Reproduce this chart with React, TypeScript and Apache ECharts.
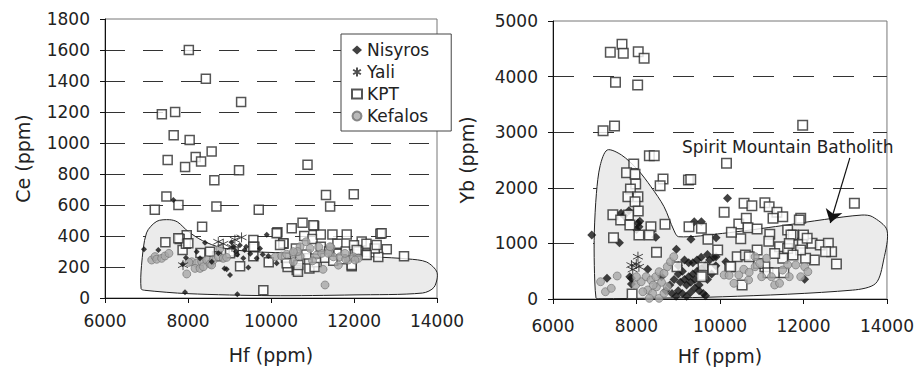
import React, { useEffect, useRef } from 'react';
import * as echarts from 'echarts';

// ---------- axis ranges ----------
const hfRange = [6000, 14000];
const hfStep = 2000;
const ceRange = [0, 1800];
const ceStep = 200;
const ybRange = [0, 5000];
const ybStep = 1000;

const seriesNames = ['Nisyros', 'Yali', 'KPT', 'Kefalos'];
const fieldLabel = 'Spirit Mountain Batholith';

// ---------- Ce vs Hf (left) ----------
const ceKPT: number[][] = [
  [8020, 1600], [8430, 1415], [9280, 1265], [7370, 1185], [7690, 1200], [7655, 1050], [8040, 1020],
  [7510, 890], [7930, 845], [8185, 910], [8315, 880], [8570, 945], [8635, 760], [9230, 825], [10880, 860],
  [7480, 655], [7200, 570], [7770, 600], [8685, 590], [9705, 570], [11325, 665], [11425, 590], [11995, 670],
  [8340, 460], [13205, 270], [9815, 50], [12635, 415], [10760, 485], [11040, 465], [10500, 450], [10155, 425],
  [11480, 410], [11825, 410], [12185, 365], [12790, 315], [12275, 280], [11945, 205], [10925, 190], [9945, 230],
  [9255, 205], [7455, 360], [7970, 405], [7870, 310], [9575, 375], [9575, 270], [10360, 260], [10620, 180],
  [11620, 285], [12585, 265], [10300, 350], [10600, 320], [10800, 400], [11000, 380], [11200, 330], [11400, 300],
  [11600, 350], [11800, 300], [12000, 340], [12300, 350], [10700, 250], [11100, 230], [11300, 260], [11500, 240],
  [12100, 300], [10400, 200], [10650, 170], [11050, 200], [10850, 280], [11700, 250], [9600, 330], [8300, 290],
  [7800, 380], [7950, 350], [8700, 270], [9100, 300], [11200, 410], [12500, 320], [7767, 385], [8008, 353],
  [8530, 299], [9013, 288], [9574, 331], [10137, 417], [10298, 353], [10218, 342], [10378, 224], [10659, 213],
  [11944, 213], [12305, 277], [12546, 342], [12064, 310], [12666, 417], [11021, 470]
];
const ceKef: number[][] = [
  [7125, 245], [7205, 267], [7245, 250], [7365, 256], [7445, 271], [7540, 288], [7970, 155], [8090, 234],
  [8210, 224], [8170, 191], [8290, 191], [8330, 234], [8370, 202], [8450, 245], [8530, 219], [8570, 213],
  [8610, 245], [8730, 267], [8770, 320], [8850, 256], [8930, 262], [8020, 230], [10105, 266], [10258, 271],
  [10378, 282], [10539, 288], [10700, 331], [10844, 363], [10941, 320], [11101, 277], [11222, 288], [11446, 327],
  [11502, 266], [11623, 212], [11664, 266], [11864, 245], [11985, 266], [12105, 256], [11254, 185], [11302, 84],
  [10539, 234], [11000, 240], [10700, 270], [11800, 250], [11400, 300], [10640, 300], [11150, 330], [11381, 288],
  [11783, 288], [12025, 245], [11422, 331], [10539, 299]
];
const ceNis: number[][] = [
  [6940, 314], [7285, 310], [7647, 632], [7928, 37], [9188, 24], [9897, 408], [8410, 357], [7872, 217],
  [9012, 148], [9454, 196], [8932, 185], [8880, 190], [9092, 331], [9188, 280], [9333, 256], [9365, 310],
  [9735, 320], [9655, 256], [9935, 271], [8210, 299], [8732, 288], [8571, 234], [8289, 256], [9050, 360],
  [9250, 340], [9400, 330], [9150, 300], [7950, 260], [10137, 224], [9800, 280], [9500, 285]
];
const ceYali: number[][] = [
  [8730, 363], [8850, 350], [9130, 376], [9290, 391], [7880, 212], [9060, 330]
];
const ceField: number[][] = [
  [6870, 60], [6880, 210], [7000, 420], [7250, 495], [7560, 505], [7750, 490], [8000, 430], [8350, 370],
  [8800, 325], [9500, 300], [10500, 290], [11500, 278], [12500, 265], [13300, 252], [13750, 232], [14000, 165],
  [13930, 70], [13650, 32], [12000, 20], [10000, 15], [8000, 28], [6950, 50]
];

// ---------- Yb vs Hf (right) ----------
const ybKPT: number[][] = [
  [7373, 4438], [7653, 4582], [7684, 4420], [8042, 4449], [8183, 4330], [7497, 3898], [8028, 3850], [7200, 3028],
  [7474, 3112], [11981, 3125], [8308, 2578], [8425, 2578], [7934, 2429], [10156, 2441], [7762, 2272], [7965, 2243],
  [7981, 2069], [7855, 1979], [7794, 1840], [8035, 1840], [8636, 2159], [8566, 2038], [9244, 2141], [9300, 2150],
  [7965, 1751], [8042, 1583], [7434, 1517], [7808, 1511], [7621, 1421], [7841, 1331], [8058, 1151], [8346, 1301],
  [8308, 1151], [7450, 1103], [8683, 1343], [8479, 840], [7895, 90], [9258, 1301], [9555, 1271], [9712, 1073],
  [10100, 1559], [10577, 1721], [10764, 1679], [11076, 1733], [11177, 1661], [11364, 1559], [11504, 1481],
  [11934, 1451], [11900, 1420], [13220, 1721], [12790, 630], [10451, 1349], [10631, 1451], [10671, 1283],
  [10889, 1259], [11270, 1451], [11621, 1241], [11754, 1151], [10498, 1085], [10273, 1199], [9945, 881],
  [10233, 581], [10413, 761], [10608, 791], [9595, 570], [9595, 426], [9829, 534], [8971, 581], [11193, 1163],
  [11427, 941], [11170, 1040], [11972, 1002], [12206, 1002], [12402, 971], [12596, 1002], [12674, 851],
  [12530, 851], [12261, 702], [12051, 732], [11930, 880], [11620, 910], [11504, 732], [11310, 820], [11076, 581],
  [10920, 640], [10890, 880], [10700, 760], [11150, 470], [11310, 470], [11530, 470], [11750, 790], [10530, 252],
  [11700, 1150], [12000, 1150], [11660, 1000], [12089, 1092], [9555, 401], [10257, 581]
];
const ybKef: number[][] = [
  [7139, 311], [7256, 131], [7396, 192], [7537, 414], [7981, 252], [8113, 311], [8230, 401], [8346, 342],
  [8463, 401], [8542, 491], [8659, 462], [8737, 581], [8814, 671], [8893, 761], [8269, 162], [8386, 102],
  [8542, 12], [8659, 102], [8737, 221], [8152, 131], [8308, 12], [8480, 221], [8000, 401], [10100, 432],
  [10218, 426], [10334, 282], [10451, 432], [10569, 534], [10685, 342], [10842, 761], [10842, 581], [10998, 401],
  [11116, 732], [11232, 401], [11310, 252], [11427, 282], [11621, 612], [11660, 401], [11816, 612], [11934, 401],
  [12027, 581], [12105, 491], [10700, 480], [11500, 520], [10950, 640], [8600, 300], [8400, 250]
];
const ybNis: number[][] = [
  [6928, 1151], [7294, 372], [7591, 1013], [7630, 1541], [7817, 1589], [8035, 1361], [8060, 1301], [8080, 1400],
  [8463, 1110], [7879, 372], [7879, 270], [8269, 534], [8955, 894], [10180, 1811], [9305, 1073], [9384, 1391],
  [9555, 1391], [9906, 1103], [9656, 60], [12027, 354], [7840, 401], [10140, 671], [9906, 761], [7700, 1500],
  [8000, 1250], [9000, 150], [9100, 100], [9200, 50], [9300, 120], [9400, 200], [9500, 250], [9050, 300],
  [9150, 350], [9250, 400], [9350, 450], [9450, 500], [9550, 550], [9650, 600], [9750, 700], [9100, 500],
  [9200, 250], [9300, 300], [9400, 350], [9500, 150], [9600, 100], [9000, 450], [8900, 350], [9350, 650],
  [9450, 700], [9550, 750], [9700, 800], [9850, 750], [9900, 600], [9800, 450], [9700, 350], [8800, 250],
  [8700, 150], [8600, 400], [9000, 600], [9150, 700], [9250, 650], [8850, 100], [8950, 50]
];
const ybYali: number[][] = [
  [7879, 610], [8035, 761], [7996, 630], [7910, 530], [8058, 580]
];
const ybField: number[][] = [
  [7030, 20], [6990, 600], [6990, 1200], [7040, 1900], [7130, 2400], [7300, 2680], [7640, 2590], [8035, 2320],
  [8346, 2020], [8660, 1660], [8893, 1240], [9010, 1120], [10060, 1180], [11500, 1320], [12500, 1430],
  [13400, 1510], [13650, 1480], [14000, 1240], [13920, 700], [13730, 280], [13180, 160], [10060, 40], [7100, 5]
];
const arrowFrom = [13111, 2537];
const arrowTo = [12643, 1367];

// ---------- styling ----------
const font = '"DejaVu Sans", sans-serif';
const ink = '#222';
const asterisk = 'path://M5,0L5,10M0.67,2.5L9.33,7.5M0.67,7.5L9.33,2.5';

function xAxis(gridIndex: number, margin: number) {
  return {
    gridIndex, type: 'value', min: hfRange[0], max: hfRange[1], interval: hfStep,
    name: 'Hf (ppm)', nameLocation: 'middle', nameGap: 47,
    nameTextStyle: { fontSize: 19, color: ink, fontFamily: font },
    axisLine: { show: true, onZero: false, lineStyle: { color: '#111', width: 1 } },
    axisTick: { show: true, length: 5, lineStyle: { color: '#111' } },
    axisLabel: { fontSize: 17, color: ink, fontFamily: font, margin, formatter: (v: number) => String(v) },
    splitLine: { show: false },
  };
}
function yAxis(gridIndex: number, range: number[], step: number, name: string, nameGap: number, dash: number[]) {
  return {
    gridIndex, type: 'value', min: range[0], max: range[1], interval: step,
    name, nameLocation: 'middle', nameGap, nameRotate: 90,
    nameTextStyle: { fontSize: 19, color: ink, fontFamily: font },
    axisLine: { show: true, onZero: false, lineStyle: { color: '#111', width: 1 } },
    axisTick: { show: true, length: 5, lineStyle: { color: '#111' } },
    axisLabel: { fontSize: 17, color: ink, fontFamily: font, margin: 15, formatter: (v: number) => String(v) },
    splitLine: { show: true, showMinLine: false, showMaxLine: false, lineStyle: { color: '#333', width: 1, type: dash } },
  };
}
function field(pts: number[][], gi: number) {
  return {
    type: 'custom', xAxisIndex: gi, yAxisIndex: gi, data: pts, silent: true, z: 1,
    renderItem: (params: any, api: any) => {
      if (params.dataIndex !== 0) return null;
      return {
        type: 'polygon',
        shape: { points: pts.map((p) => api.coord(p)), smooth: 0.3 },
        style: { fill: '#ebebeb', stroke: '#222', lineWidth: 1 },
      };
    },
  };
}
function scatter(name: string, data: number[][], gi: number, kind: string, size: number, extra: any = {}) {
  const styles: any = {
    nis: { symbol: 'diamond', itemStyle: { color: '#111' } },
    yali: { symbol: asterisk, itemStyle: { color: 'rgba(0,0,0,0)', borderColor: '#222', borderWidth: 1 } },
    kpt: { symbol: 'rect', itemStyle: { color: '#fff', borderColor: '#2a2a2a', borderWidth: 1.5 } },
    kef: { symbol: 'circle', itemStyle: { color: '#a8a8a8', borderColor: '#707070', borderWidth: 0.8 } },
  };
  return {
    type: 'scatter', name, data, xAxisIndex: gi, yAxisIndex: gi, symbolSize: size, z: 3,
    emphasis: { disabled: true }, ...styles[kind], ...extra,
  };
}

const option: any = {
  animation: false,
  backgroundColor: '#fff',
  textStyle: { fontFamily: font },
  grid: [
    { left: 105, top: 19, width: 332, height: 279, show: true, borderColor: '#777', borderWidth: 1, backgroundColor: 'transparent' },
    { left: 553, top: 21, width: 342, height: 278, show: true, borderColor: '#777', borderWidth: 1, backgroundColor: 'transparent' },
  ],
  xAxis: [xAxis(0, 14), xAxis(1, 18)],
  yAxis: [
    yAxis(0, ceRange, ceStep, 'Ce (ppm)', 73, [20, 18]),
    yAxis(1, ybRange, ybStep, 'Yb (ppm)', 77, [21, 19]),
  ],
  legend: {
    data: seriesNames, orient: 'vertical', left: 341, top: 34,
    padding: [7, 22, 6, 10], itemGap: 4, itemWidth: 10, itemHeight: 9,
    backgroundColor: '#fff', borderColor: '#444', borderWidth: 1, borderRadius: 0,
    textStyle: { fontSize: 17, color: ink, fontFamily: font, lineHeight: 18 },
    selectedMode: false, z: 10,
  },
  graphic: [
    { type: 'text', left: 682, top: 138, style: { text: fieldLabel, font: `17px ${font}`, fill: ink } },
  ],
  series: [
    field(ceField, 0),
    scatter('KPT', ceKPT, 0, 'kpt', 9),
    scatter('Kefalos', ceKef, 0, 'kef', 8),
    scatter('Nisyros', ceNis, 0, 'nis', 6),
    scatter('Yali', ceYali, 0, 'yali', 10),
    field(ybField, 1),
    scatter('Nisyros', ybNis, 1, 'nis', 9),
    scatter('KPT', ybKPT, 1, 'kpt', 9.5),
    scatter('Kefalos', ybKef, 1, 'kef', 8),
    scatter('Yali', ybYali, 1, 'yali', 10, {
      markLine: {
        silent: true, symbol: ['none', 'arrow'], symbolSize: 13, animation: false,
        label: { show: false }, emphasis: { disabled: true },
        itemStyle: { color: '#111' },
        lineStyle: { color: '#111', width: 1.2, type: 'solid' },
        data: [[{ coord: arrowFrom }, { coord: arrowTo }]],
      },
    }),
  ],
};

export default function App() {
  const ref = useRef<HTMLDivElement>(null);
  useEffect(() => {
    const chart = echarts.init(ref.current!, null, { renderer: 'svg' });
    chart.setOption(option);
    return () => chart.dispose();
  }, []);
  return (
    <div
      ref={ref}
      style={{ position: 'fixed', left: 0, top: 0, width: 917, height: 373, background: '#fff' }}
    />
  );
}
